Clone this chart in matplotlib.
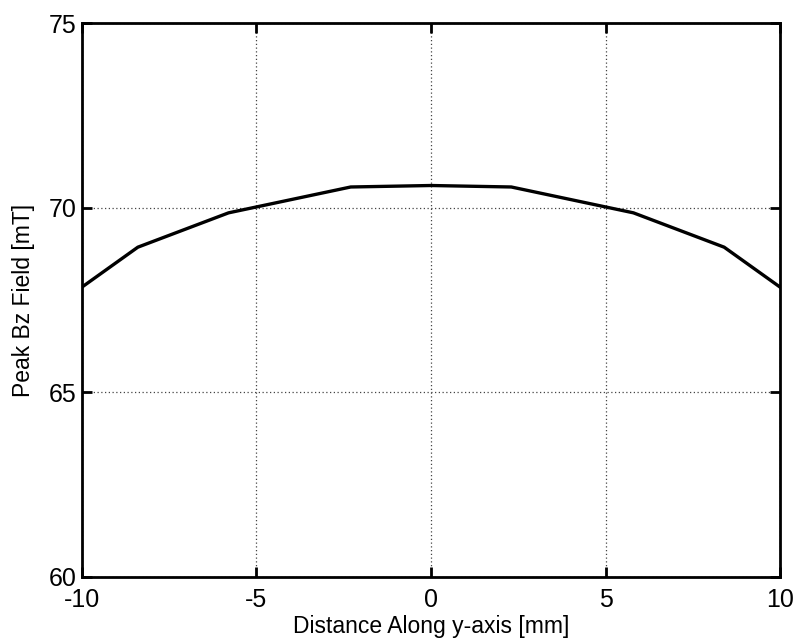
import matplotlib
matplotlib.use("Agg")
import matplotlib.pyplot as plt

distance_mm = [-10, -8.4, -5.8, -2.3, 0, 2.3, 5.8, 8.4, 10]
peak_bz_mT = [67.85, 68.93, 69.86, 70.56, 70.6, 70.56, 69.86, 68.93, 67.85]
xticks = [-10, -5, 0, 5, 10]
yticks = [60, 65, 70, 75]

plt.rcParams['font.family'] = ['Liberation Sans', 'DejaVu Sans']
plt.rcParams['axes.unicode_minus'] = False

fig = plt.figure(figsize=(8.04, 6.41), dpi=100)
ax = fig.add_axes([82/804, 64/641, 698/804, 554/641])
ax.plot(distance_mm, peak_bz_mT, color='black', linewidth=2.4)
ax.set_xlim(-10, 10)
ax.set_ylim(60, 75)
ax.set_xticks(xticks)
ax.set_yticks(yticks)
ax.grid(True, linestyle=(0, (1, 2)), color='#444444', linewidth=0.9)
ax.tick_params(direction='in', length=7, width=2, top=True, right=True,
               labelsize=18, colors='black')
ax.tick_params(axis='x', pad=8)
ax.tick_params(axis='y', pad=4)
for s in ax.spines.values():
    s.set_linewidth(2)
ax.set_xlabel('Distance Along y-axis [mm]', fontsize=16.5, labelpad=2)
ax.set_ylabel('Peak Bz Field [mT]', fontsize=16.5, labelpad=10)
fig.savefig('out.png', dpi=100)
